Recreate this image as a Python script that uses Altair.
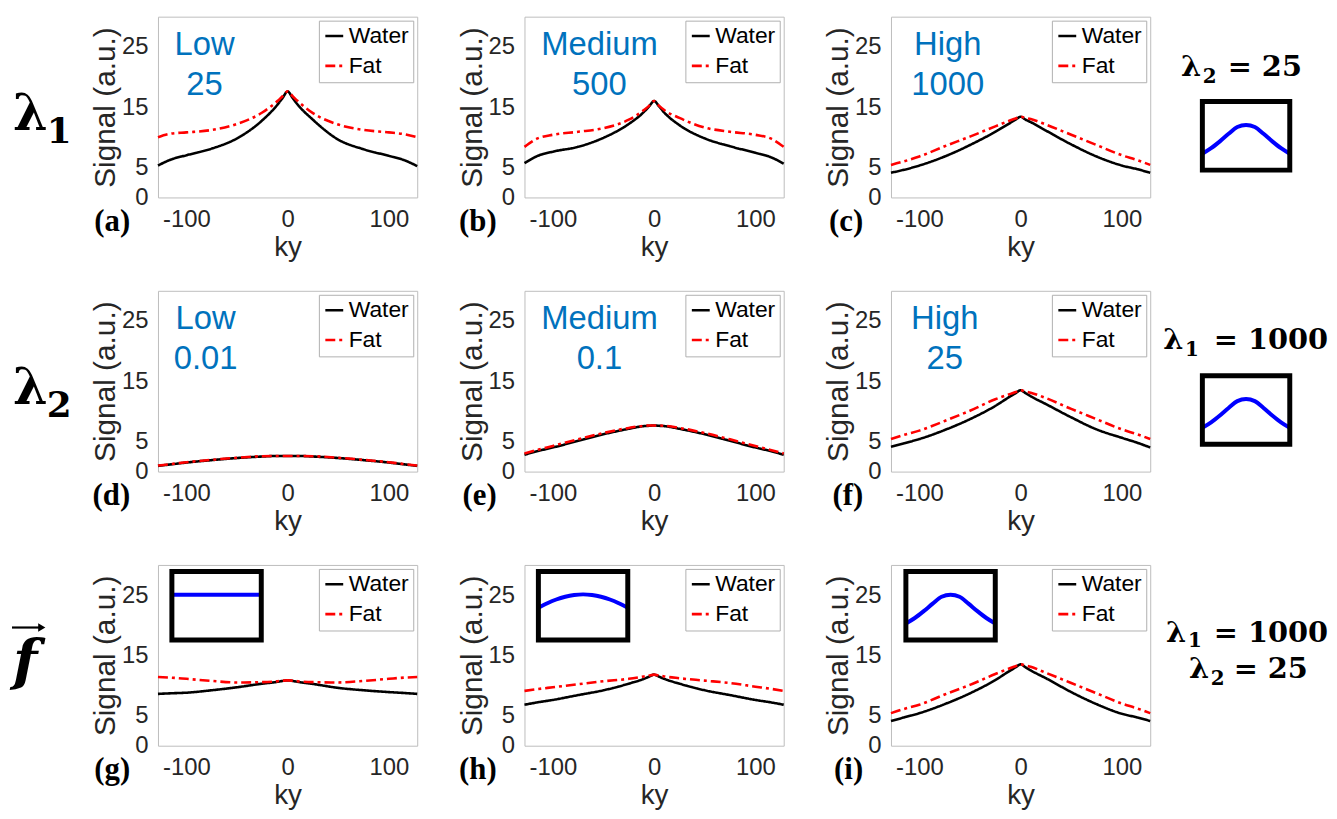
import altair as alt
import pandas as pd

# ---------------- data ----------------
KY = [-128, -115, -100, -75, -50, -25, -10, -5, 0, 5, 10, 25, 50, 75, 100, 115, 128]
SERIES = ["Water", "Fat"]

water_a = [5.3, 6.3, 7.0, 8.1, 9.8, 12.8, 15.4, 16.5, 17.6, 16.5, 15.4, 12.9, 9.6, 8.0, 6.9, 6.2, 5.2]
fat_a = [10.0, 10.6, 10.8, 11.2, 12.2, 14.1, 16.0, 16.8, 17.6, 16.8, 16.0, 14.0, 12.1, 11.2, 10.8, 10.5, 10.0]
water_b = [5.7, 6.9, 7.6, 8.4, 9.9, 12.2, 14.2, 15.1, 16.0, 15.1, 14.1, 12.0, 9.8, 8.5, 7.4, 6.7, 5.6]
fat_b = [8.4, 9.8, 10.4, 10.9, 11.5, 12.9, 14.5, 15.2, 16.0, 15.2, 14.5, 13.2, 11.6, 10.9, 10.4, 9.8, 8.4]
water_c = [4.1, 4.6, 5.3, 6.8, 8.7, 10.9, 12.4, 12.9, 13.4, 12.9, 12.5, 11.1, 8.8, 6.8, 5.3, 4.7, 4.1]
fat_c = [5.4, 6.0, 6.8, 8.5, 10.1, 11.8, 12.8, 13.1, 13.4, 13.2, 13.0, 12.1, 10.4, 8.7, 7.0, 6.2, 5.4]
water_d = [0.95, 1.2, 1.5, 1.9, 2.25, 2.5, 2.6, 2.6, 2.6, 2.6, 2.6, 2.5, 2.25, 1.9, 1.5, 1.2, 0.95]
fat_d = [1.0, 1.25, 1.55, 1.95, 2.3, 2.55, 2.6, 2.6, 2.6, 2.6, 2.6, 2.55, 2.3, 1.95, 1.55, 1.25, 1.0]
water_e = [2.8, 3.4, 4.0, 5.1, 6.2, 7.1, 7.55, 7.6, 7.65, 7.6, 7.55, 7.1, 6.2, 5.1, 4.0, 3.4, 2.8]
fat_e = [3.0, 3.6, 4.25, 5.35, 6.4, 7.25, 7.6, 7.65, 7.65, 7.65, 7.6, 7.25, 6.4, 5.35, 4.25, 3.6, 3.0]
water_f = [4.1, 4.7, 5.4, 6.9, 8.7, 10.9, 12.5, 13.0, 13.5, 13.0, 12.5, 11.2, 9.0, 7.0, 5.6, 4.8, 4.0]
fat_f = [5.4, 6.1, 6.8, 8.4, 10.1, 12.0, 12.9, 13.2, 13.5, 13.3, 13.1, 12.2, 10.4, 8.7, 7.0, 6.2, 5.4]
water_g = [8.6, 8.7, 8.8, 9.2, 9.7, 10.3, 10.6, 10.75, 10.85, 10.75, 10.6, 10.25, 9.6, 9.2, 8.9, 8.75, 8.6]
fat_g = [11.4, 11.3, 11.1, 10.75, 10.5, 10.55, 10.7, 10.8, 10.85, 10.8, 10.7, 10.55, 10.5, 10.75, 11.1, 11.3, 11.4]
water_h = [6.8, 7.2, 7.6, 8.4, 9.2, 10.3, 11.1, 11.45, 11.8, 11.45, 11.1, 10.3, 9.2, 8.4, 7.6, 7.2, 6.8]
fat_h = [9.1, 9.4, 9.7, 10.2, 10.7, 11.1, 11.5, 11.65, 11.8, 11.65, 11.5, 11.2, 10.8, 10.4, 9.8, 9.45, 9.1]
water_i = [4.1, 4.7, 5.4, 6.9, 8.7, 10.9, 12.5, 13.0, 13.5, 13.0, 12.5, 11.2, 8.9, 6.9, 5.3, 4.7, 4.1]
fat_i = [5.4, 6.1, 6.8, 8.5, 10.1, 11.9, 12.9, 13.2, 13.5, 13.3, 13.1, 12.1, 10.4, 8.7, 7.0, 6.2, 5.4]

WATERS = [water_a, water_b, water_c, water_d, water_e, water_f, water_g, water_h, water_i]
FATS = [fat_a, fat_b, fat_c, fat_d, fat_e, fat_f, fat_g, fat_h, fat_i]

PANEL_LETTERS = ["(a)", "(b)", "(c)", "(d)", "(e)", "(f)", "(g)", "(h)", "(i)"]
BLUE_TOP = ["Low", "Medium", "High", "Low", "Medium", "High"]
BLUE_BOTTOM = ["25", "500", "1000", "0.01", "0.1", "25"]
BLUE_KY = [-82, -54, -72, -81, -54, -75]
BLUE_SIGNAL = [23.7, 17.0]

ROW_MAIN = ["λ", "λ", "f"]
ROW_SUB = ["1", "2", ""]

# right-hand parameter labels: (symbol, subscript, rest) per line, per row
RIGHT_LINES = [
    [("λ", "2", "= 25")],
    [("λ", "1", "= 1000")],
    [("λ", "1", "= 1000"), ("λ", "2", "= 25")],
]
# annotation placement (pixels from the panel's plot origin): x of symbol, sub, rest; baseline; sub drop
RIGHT_POS = [
    [(292, 314, 339, 60, 7)],
    [(274, 296, 325, 59, 7)],
    [(277, 299, 325, 78, 5), (300, 322, 345, 114, 7)],
]

# window shapes drawn in the small boxes (fraction of box height)
WIN_X = [0.0, 0.1, 0.2, 0.3, 0.4, 0.5, 0.6, 0.7, 0.8, 0.9, 1.0]
WIN_FLAT = [0.66, 0.66, 0.66, 0.66, 0.66, 0.66, 0.66, 0.66, 0.66, 0.66, 0.66]
WIN_MILD = [0.47, 0.535, 0.59, 0.63, 0.655, 0.665, 0.655, 0.63, 0.59, 0.535, 0.47]
WIN_PEAK = [0.24, 0.32, 0.42, 0.53, 0.63, 0.66, 0.63, 0.53, 0.42, 0.32, 0.24]

W, H = 261, 182
FONT = "Liberation Sans"
SERIF = "DejaVu Serif"
BLUE = "#0072BD"

X_ENC = alt.X("ky:Q", scale=alt.Scale(domain=[-128, 128], nice=False, zero=False),
              axis=alt.Axis(values=[-100, 0, 100], title="ky", labelExpr="'' + datum.value"))
Y_ENC = alt.Y("signal:Q", scale=alt.Scale(domain=[0, 30], nice=False, zero=False),
              axis=alt.Axis(values=[0, 5, 15, 25], title="Signal (a.u.)"))
COLOR = alt.Color("series:N", scale=alt.Scale(domain=SERIES, range=["#000000", "#ff0000"]),
                  legend=alt.Legend(title=None))
DASH = alt.StrokeDash("series:N", scale=alt.Scale(domain=SERIES, range=[[1, 0], [10, 4, 3, 4]]),
                      legend=alt.Legend(title=None))

ONE = pd.DataFrame({"k": [0]})


def text_at(t, x, y, **kw):
    return alt.Chart(pd.DataFrame({"t": [t]})).mark_text(**kw).encode(
        text="t:N", x=alt.value(x), y=alt.value(y))


def inset(shape, xr, yr):
    xs = alt.Scale(domain=[0, 1], range=xr, nice=False, zero=False)
    ys = alt.Scale(domain=[0, 1], range=yr, nice=False, zero=False)
    line = alt.Chart(pd.DataFrame({"wx": WIN_X, "wy": shape})).mark_line(
        color="#0000ff", strokeWidth=4, interpolate="monotone").encode(
        x=alt.X("wx:Q", scale=xs, axis=None), y=alt.Y("wy:Q", scale=ys, axis=None))
    box = alt.Chart(pd.DataFrame({"wx": [0], "wx2": [1], "wy": [0], "wy2": [1]})).mark_rect(
        fillOpacity=0, stroke="black", strokeWidth=5).encode(
        x=alt.X("wx:Q", scale=xs, axis=None), x2="wx2:Q",
        y=alt.Y("wy:Q", scale=ys, axis=None), y2="wy2:Q")
    return alt.layer(line, box)


def make_panel(k):
    r, c = divmod(k, 3)
    n = len(KY)
    df = pd.DataFrame({"ky": KY + KY, "signal": WATERS[k] + FATS[k],
                       "series": ["Water"] * n + ["Fat"] * n})
    layers = []
    for s in SERIES:
        layers.append(alt.Chart(df).transform_filter(alt.datum.series == s).mark_line(
            strokeWidth=2.6, interpolate="monotone").encode(
            x=X_ENC, y=Y_ENC, color=COLOR, strokeDash=DASH))
    if k < 6:
        tdf = pd.DataFrame({"ky": [BLUE_KY[k], BLUE_KY[k]], "signal": BLUE_SIGNAL,
                            "t": [BLUE_TOP[k], BLUE_BOTTOM[k]]})
        layers.append(alt.Chart(tdf).mark_text(font=FONT, fontSize=33, color=BLUE,
                                               align="center", baseline="alphabetic").encode(
            x=X_ENC, y=Y_ENC, text="t:N"))
    layers.append(text_at(PANEL_LETTERS[k], -28, 216, font="Liberation Serif", fontSize=31,
                          fontWeight="bold", align="right", baseline="alphabetic", color="black"))
    if c == 0:
        if ROW_MAIN[r] == "f":
            layers.append(text_at("f", -146, 116, font=SERIF, fontSize=57,
                                  fontWeight="bold", fontStyle="italic", align="left",
                                  baseline="alphabetic", color="black"))
            layers.append(alt.Chart(ONE).mark_rule(color="black", strokeWidth=2.2).encode(
                x=alt.value(-147), x2=alt.value(-117), y=alt.value(63)))
            layers.append(alt.Chart(ONE).mark_point(shape="triangle-right", filled=True, size=70,
                                                    color="black", opacity=1).encode(
                x=alt.value(-117), y=alt.value(63)))
        else:
            layers.append(text_at(ROW_MAIN[r], -146, 114, font=SERIF, fontSize=50,
                                  fontWeight="bold", align="left", baseline="alphabetic",
                                  color="black"))
            layers.append(text_at(ROW_SUB[r], -112, 127, font=SERIF, fontSize=36,
                                  fontWeight="bold", align="left", baseline="alphabetic",
                                  color="black"))
    if c == 2:
        for (sym, sub, rest), (xs_, xb, xr, yb, drop) in zip(RIGHT_LINES[r], RIGHT_POS[r]):
            layers.append(text_at(sym, xs_, yb, font=SERIF, fontSize=29, fontWeight="bold",
                                  align="left", baseline="alphabetic", color="black"))
            layers.append(text_at(sub, xb, yb + drop, font=SERIF, fontSize=20, fontWeight="bold",
                                  align="left", baseline="alphabetic", color="black"))
            layers.append(text_at(rest, xr, yb, font=SERIF, fontSize=29, fontWeight="bold",
                                  align="left", baseline="alphabetic", color="black"))
    main = alt.layer(*layers)
    ins = None
    if r == 2 and c == 0:
        ins = inset(WIN_FLAT, [14, 104], [75.5, 6.5])
    elif r == 2 and c == 1:
        ins = inset(WIN_MILD, [14, 104], [75.5, 6.5])
    elif r == 2 and c == 2:
        ins = inset(WIN_PEAK, [15, 105], [75.5, 6.5])
    elif c == 2:
        ins = inset(WIN_PEAK, [313.5, 401.5], [154.5, 85.5])
    if ins is not None:
        ch = alt.layer(main, ins).resolve_scale(x="independent", y="independent")
    else:
        ch = main
    return ch.properties(width=W, height=H)


panels = [make_panel(k) for k in range(9)]

chart = alt.concat(*panels, columns=3, spacing={"row": 94, "column": 108}, bounds="flush").resolve_scale(
    x="independent", y="independent", color="independent", strokeDash="independent"
).resolve_legend(color="independent", strokeDash="independent").properties(
    padding={"left": 2, "top": 5, "right": 0, "bottom": 0}
).configure_view(stroke="#bdbdbd", strokeWidth=1).configure_axis(
    labelFont=FONT, labelFontSize=24, labelColor="#262626", titleFont=FONT,
    titleFontWeight="normal", titleColor="#262626", grid=False, ticks=False, tickSize=0, domain=False
).configure_axisX(labelPadding=10, titlePadding=2, titleFontSize=28).configure_axisY(
    labelPadding=10, titlePadding=1, titleFontSize=30
).configure_legend(
    orient="top-right", offset=4, fillColor="white", strokeColor="#b0b0b0", padding=4,
    labelFont=FONT, labelFontSize=23, labelColor="black", symbolType="stroke", symbolSize=324,
    symbolStrokeWidth=2.6, labelOffset=3, rowPadding=6
)

chart.save("out.html", embed_options={"renderer": "svg", "actions": False})
